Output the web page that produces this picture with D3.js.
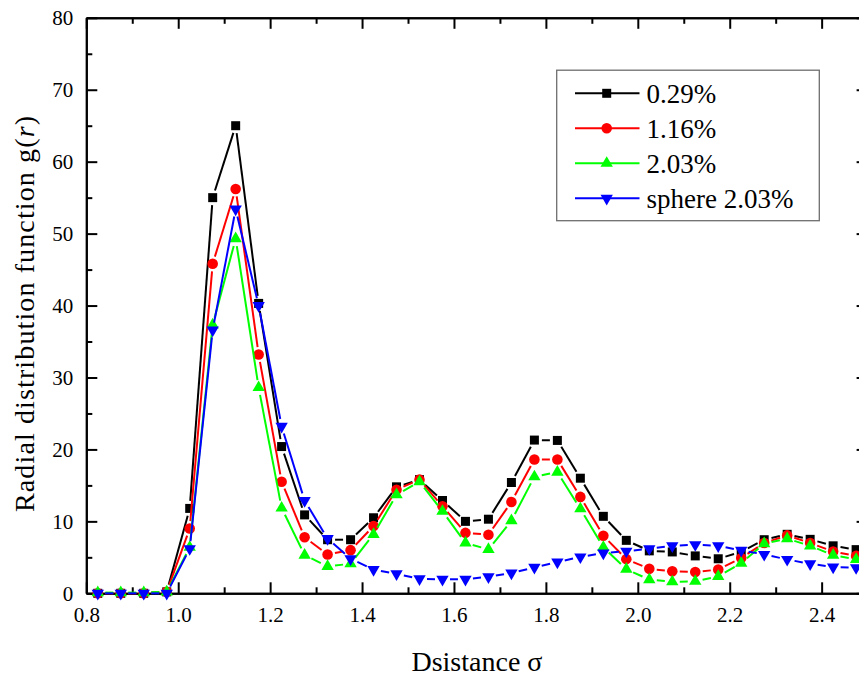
<!DOCTYPE html>
<html>
<head>
<meta charset="utf-8">
<script src="https://cdn.jsdelivr.net/npm/d3@7"></script>
<style>
  html, body { margin: 0; padding: 0; background: #fff; }
  svg { display: block; }
  svg text { font-family: "Liberation Serif", "Times New Roman", Times, Tinos, "DejaVu Serif", serif !important; fill: #000; }
</style>
</head>
<body>
<svg id="chart" width="859" height="677"></svg>
<script>
// ---- data ----
const distances = [0.825, 0.875, 0.925, 0.975, 1.025, 1.075, 1.125, 1.175, 1.225, 1.275,
  1.325, 1.375, 1.425, 1.475, 1.525, 1.575, 1.625, 1.675, 1.725, 1.775,
  1.825, 1.875, 1.925, 1.975, 2.025, 2.075, 2.125, 2.175, 2.225, 2.275,
  2.325, 2.375, 2.425, 2.475];

const g029 = [0, 0, 0, 0.2, 11.8, 55.0, 65.0, 40.3, 20.4, 10.9,
  7.45, 7.45, 10.5, 14.8, 15.8, 12.9, 10.0, 10.3, 15.4, 21.3,
  21.25, 16.0, 10.7, 7.36, 5.9, 5.75, 5.2, 4.8, 5.75, 7.45,
  8.2, 7.5, 6.6, 6.07];

const g116 = [0, 0, 0, 0.2, 9.0, 45.8, 56.2, 33.2, 15.5, 7.8,
  5.4, 6.0, 9.35, 14.4, 15.8, 12.1, 8.4, 8.15, 12.7, 18.6,
  18.6, 13.4, 8.0, 4.75, 3.4, 3.05, 2.95, 3.3, 4.9, 7.0,
  8.05, 7.0, 5.8, 5.2];

const g203 = [0.1, 0.1, 0.1, 0.2, 6.4, 37.3, 49.3, 28.6, 11.85, 5.3,
  3.75, 4.1, 8.2, 13.7, 15.5, 11.4, 7.0, 6.1, 10.1, 16.2,
  16.85, 11.75, 6.4, 3.35, 1.9, 1.6, 1.67, 2.36, 4.2, 6.9,
  7.6, 6.6, 5.3, 4.7];

const gSphere = [0, 0, 0, 0, 6.2, 36.6, 53.4, 40.0, 23.2, 12.9,
  7.6, 4.8, 3.3, 2.7, 2.0, 1.95, 1.95, 2.3, 2.8, 3.6,
  4.35, 5.05, 5.6, 5.85, 6.2, 6.6, 6.75, 6.6, 5.97, 5.4,
  4.7, 4.1, 3.65, 3.56];

const seriesNames = ["0.29%", "1.16%", "2.03%", "sphere 2.03%"];
const seriesValues = [g029, g116, g203, gSphere];
const seriesColors = ["#000000", "#ff0000", "#00ff00", "#0000ff"];
const seriesSymbols = ["square", "circle", "triangle", "triangleDown"];

const xMajorTicks = [0.8, 1.0, 1.2, 1.4, 1.6, 1.8, 2.0, 2.2, 2.4];
const xMinorTicks = [0.9, 1.1, 1.3, 1.5, 1.7, 1.9, 2.1, 2.3, 2.5];
const yMajorTicks = [0, 10, 20, 30, 40, 50, 60, 70, 80];
const yMinorTicks = [5, 15, 25, 35, 45, 55, 65, 75];

const xTitle = "Dsistance \u03c3";

// ---- layout ----
const FONT = "'Liberation Serif', 'Times New Roman', Times, Tinos, 'DejaVu Serif', serif";
const svg = d3.select("#chart");
const L = 86.3, R = 867.6, T = 17.8, B = 593.3;
const x = d3.scaleLinear().domain([0.8, 2.5]).range([L, R]);
const y = d3.scaleLinear().domain([0, 80]).range([B, T]);

const fmtX = d3.format(".1f");

function styleAxis(g) {
  g.attr("font-family", FONT);
  g.selectAll(".domain").attr("stroke", "#000").attr("stroke-width", 2);
  g.selectAll(".tick line").attr("stroke", "#000").attr("stroke-width", 2);
  g.selectAll(".tick text").attr("font-size", 21).attr("fill", "#000");
}

// bottom
svg.append("g").attr("transform", `translate(0,${B})`)
  .call(d3.axisBottom(x).tickValues(xMajorTicks).tickFormat(fmtX).tickSize(-11).tickSizeOuter(0).tickPadding(13.8))
  .call(styleAxis);
svg.append("g").attr("transform", `translate(0,${B})`)
  .call(d3.axisBottom(x).tickValues(xMinorTicks).tickFormat("").tickSize(-6).tickSizeOuter(0))
  .call(styleAxis);
// top
svg.append("g").attr("transform", `translate(0,${T})`)
  .call(d3.axisTop(x).tickValues(xMajorTicks).tickFormat("").tickSize(-11).tickSizeOuter(0))
  .call(styleAxis);
svg.append("g").attr("transform", `translate(0,${T})`)
  .call(d3.axisTop(x).tickValues(xMinorTicks).tickFormat("").tickSize(-6).tickSizeOuter(0))
  .call(styleAxis);
// left
svg.append("g").attr("transform", `translate(${L},0)`)
  .call(d3.axisLeft(y).tickValues(yMajorTicks).tickFormat(d3.format("d")).tickSize(-11).tickSizeOuter(0).tickPadding(13))
  .call(styleAxis);
svg.append("g").attr("transform", `translate(${L},0)`)
  .call(d3.axisLeft(y).tickValues(yMinorTicks).tickFormat("").tickSize(-6).tickSizeOuter(0))
  .call(styleAxis);
// right
svg.append("g").attr("transform", `translate(${R},0)`)
  .call(d3.axisRight(y).tickValues(yMajorTicks).tickFormat("").tickSize(-11).tickSizeOuter(0))
  .call(styleAxis);
svg.append("g").attr("transform", `translate(${R},0)`)
  .call(d3.axisRight(y).tickValues(yMinorTicks).tickFormat("").tickSize(-6).tickSizeOuter(0))
  .call(styleAxis);

// ---- symbols ----
function symbolPath(kind) {
  if (kind === "square") return d3.symbol(d3.symbolSquare, 81)();
  if (kind === "circle") return d3.symbol(d3.symbolCircle, 88)();
  return d3.symbol(d3.symbolTriangle, 66)();
}
function symbolTransform(kind, px, py) {
  if (kind === "triangleDown") return `translate(${px},${py}) rotate(180)`;
  return `translate(${px},${py})`;
}

const GAP = 7.5;
const plot = svg.append("g");

seriesValues.forEach((vals, si) => {
  const col = seriesColors[si];
  const pts = distances.map((d, i) => [x(d), y(vals[i])]);
  const segs = [];
  for (let i = 0; i < pts.length - 1; i++) {
    const [x0, y0] = pts[i], [x1, y1] = pts[i + 1];
    const dx = x1 - x0, dy = y1 - y0, len = Math.hypot(dx, dy);
    if (len <= 2 * GAP + 0.5) continue;
    const ux = dx / len, uy = dy / len;
    segs.push([x0 + ux * GAP, y0 + uy * GAP, x1 - ux * GAP, y1 - uy * GAP]);
  }
  const g = plot.append("g");
  g.selectAll("line").data(segs).join("line")
    .attr("x1", d => d[0]).attr("y1", d => d[1])
    .attr("x2", d => d[2]).attr("y2", d => d[3])
    .attr("stroke", col).attr("stroke-width", 2);
  g.selectAll("path").data(pts).join("path")
    .attr("d", symbolPath(seriesSymbols[si]))
    .attr("transform", d => symbolTransform(seriesSymbols[si], d[0], d[1]))
    .attr("fill", col);
});

// ---- legend ----
const lg = svg.append("g").attr("font-family", FONT);
lg.append("rect").attr("x", 556.7).attr("y", 70.2).attr("width", 262.6).attr("height", 150.5)
  .attr("fill", "#fff").attr("stroke", "#6e6e6e").attr("stroke-width", 1.3);
seriesNames.forEach((name, i) => {
  const cy = 93.3 + i * 35;
  lg.append("line").attr("x1", 575).attr("x2", 639.5).attr("y1", cy).attr("y2", cy)
    .attr("stroke", seriesColors[i]).attr("stroke-width", 2);
  lg.append("path").attr("d", symbolPath(seriesSymbols[i]))
    .attr("transform", symbolTransform(seriesSymbols[i], 606.7, cy))
    .attr("fill", seriesColors[i]);
  lg.append("text").attr("x", 646.5).attr("y", cy + 9.5)
    .attr("font-size", 27).text(name);
});

// ---- titles ----
svg.append("text").attr("x", (L + R) / 2).attr("y", 671).attr("text-anchor", "middle")
  .attr("font-family", FONT).attr("font-size", 28).text(xTitle);

const yt = svg.append("text").attr("transform", "translate(33.5,314) rotate(-90)")
  .attr("text-anchor", "middle").attr("font-family", FONT).attr("font-size", 28)
  .attr("textLength", 396).attr("lengthAdjust", "spacing");
yt.append("tspan").text("Radial distribution function g(");
yt.append("tspan").attr("font-style", "italic").text("r");
yt.append("tspan").text(")");
</script>
</body>
</html>
